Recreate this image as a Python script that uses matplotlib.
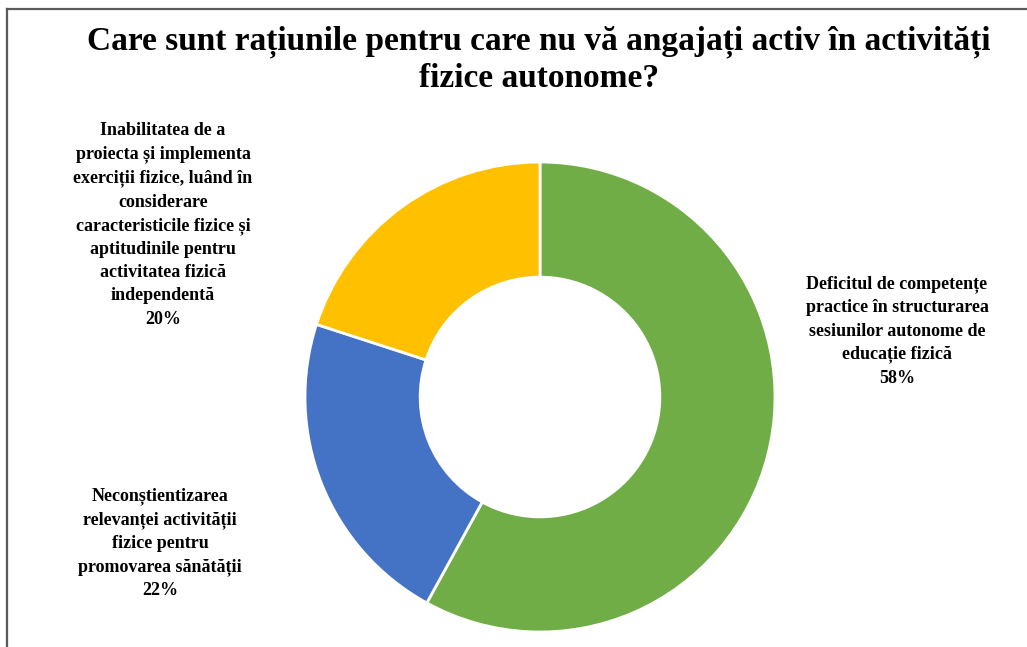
import matplotlib.pyplot as plt
from matplotlib.lines import Line2D

plt.rcParams['font.family'] = ['Liberation Serif', 'DejaVu Serif']

# Date
categorii = [
    'Deficitul de competențe\npractice în structurarea\nsesiunilor autonome de\neducație fizică',
    'Neconștientizarea\nrelevanței activității\nfizice pentru\npromovarea sănătății',
    'Inabilitatea de a\nproiecta și implementa\nexerciții fizice, luând în\nconsiderare\ncaracteristicile fizice și\naptitudinile pentru\nactivitatea fizică\nindependentă',
]
procente = [58, 22, 20]
culori = ['#70AD47', '#4472C4', '#FFC000']
titlu = 'Care sunt rațiunile pentru care nu vă angajați activ în activități\nfizice autonome?'

W, H = 1027, 647
fig = plt.figure(figsize=(W / 100, H / 100), dpi=100)

# centru donut ~ (540, 397) px, raza 235 px
cx, cy, r = 540, 397, 235
ax = fig.add_axes([(cx - r) / W, (H - cy - r) / H, 2 * r / W, 2 * r / H])
ax.pie(procente, colors=culori, startangle=90, counterclock=False, radius=1,
       wedgeprops=dict(width=0.49, edgecolor='white', linewidth=2))
ax.set_xlim(-1, 1)
ax.set_ylim(-1, 1)
ax.set_aspect('equal')
ax.axis('off')

# etichete: (centru x px, centru y px)
pozitii = [(897, 331), (160, 543), (163, 225)]
for text, p, (px, py) in zip(categorii, procente, pozitii):
    ax.text((px - cx) / r, (cy - py) / r, f'{text}\n{p}%', ha='center', va='center',
            fontsize=13, fontweight='bold', linespacing=1.48, clip_on=False)

fig.text(539 / W, 1 - 26 / H, titlu, ha='center', va='top', fontsize=24,
         fontweight='bold', linespacing=1.2)

# chenar
fig.add_artist(Line2D([7 / W, 1], [1 - 9 / H, 1 - 9 / H], transform=fig.transFigure,
                      color='#5a5a5a', lw=1.6))
fig.add_artist(Line2D([7 / W, 7 / W], [0, 1 - 9 / H], transform=fig.transFigure,
                      color='#5a5a5a', lw=1.6))

fig.savefig('out.png', dpi=100)
